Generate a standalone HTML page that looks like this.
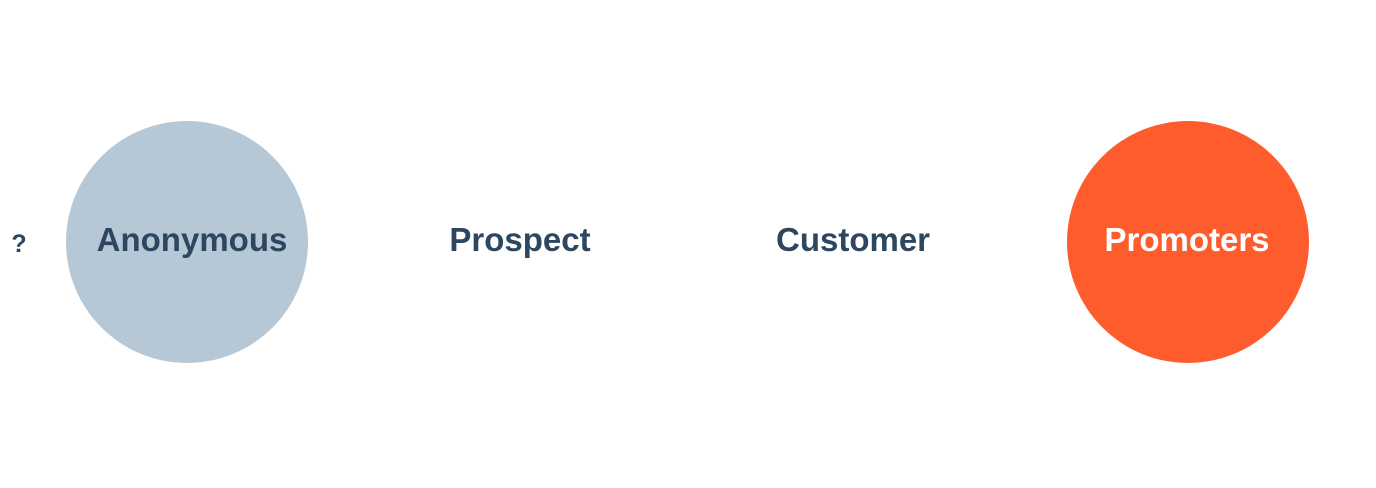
<!DOCTYPE html>
<html><head><meta charset="utf-8"><style>
html,body{margin:0;padding:0;background:#fff;}
body{width:1376px;height:488px;position:relative;overflow:hidden;font-family:"Liberation Sans",sans-serif;}
.c{position:absolute;border-radius:50%;width:242px;height:242px;top:121px;}
.t{position:absolute;font-size:33px;font-weight:bold;color:#2d4760;line-height:33px;white-space:nowrap;transform:translateX(-50%);top:223px;}
</style></head><body>
<div class="c" style="left:66px;background:#b6c8d6;"></div>
<div class="c" style="left:1067px;background:#ff5c2e;"></div>
<div class="t" style="left:19px;font-size:25px;top:228px;">?</div>
<div class="t" style="left:192px;">Anonymous</div>
<div class="t" style="left:520px;">Prospect</div>
<div class="t" style="left:853px;">Customer</div>
<div class="t" style="left:1187px;color:#fff;">Promoters</div>
</body></html>
